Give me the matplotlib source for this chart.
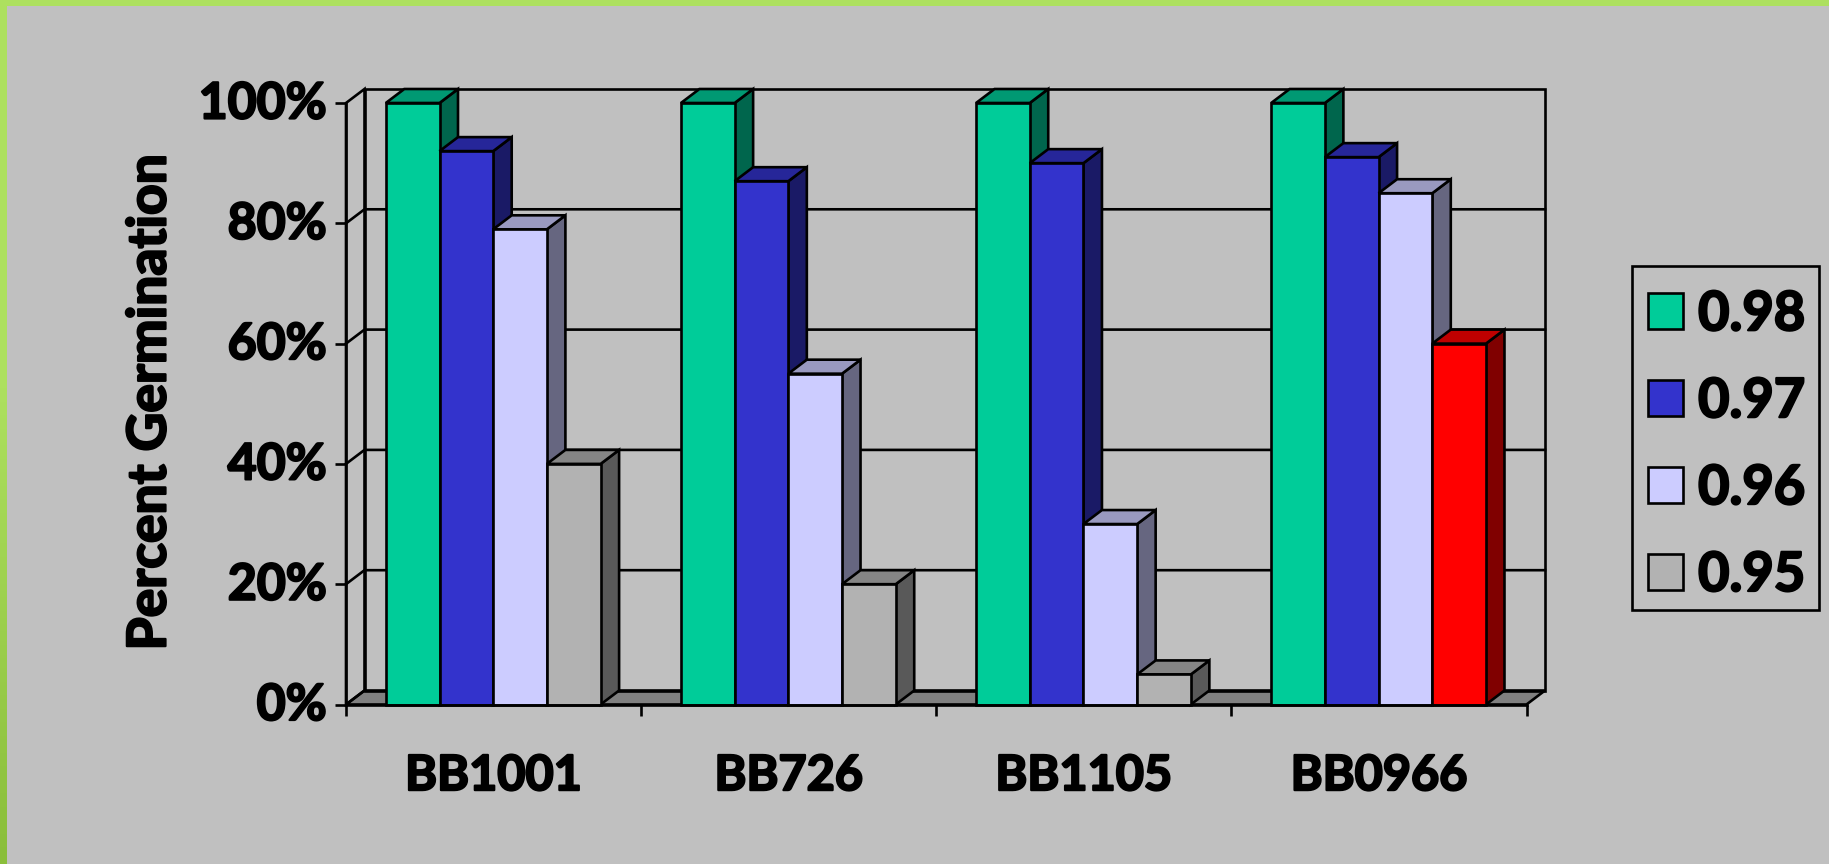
import numpy as np
from matplotlib import pyplot as plt
from matplotlib import patheffects
from matplotlib.colors import LinearSegmentedColormap, to_rgb
from matplotlib.patches import Patch, Polygon, Rectangle
from matplotlib.ticker import PercentFormatter
from matplotlib.transforms import ScaledTranslation

groups = ['BB1001', 'BB726', 'BB1105', 'BB0966']
series_names = ['0.98', '0.97', '0.96', '0.95']
series_values = [
    [100, 100, 100, 100],
    [92, 87, 90, 91],
    [79, 55, 30, 85],
    [40, 20, 5, 60],
]
series_colors = ['#00CC99', '#3333CC', '#CCCCFF', '#B2B2B2']
# last bar of the last series is flagged in red
override_colors = {(3, 3): '#FF0000'}
y_ticks = [0, 20, 40, 60, 80, 100]

W, H = 1829, 864
FONT = 'Lato'
LW = 1.9

# plot box in pixels
LEFT, RIGHT, BOTTOM, TOP = 346, 1526.5, 704.5, 103
DEPTH_X, DEPTH_Y = 18.5, 14
BAR_PX = 53.7
GAP_PX = 39.8

# thickens the letters a little
HEAVY = [patheffects.withStroke(linewidth=1.6, foreground='black')]


def shade(color, factor):
    return tuple(c * factor for c in to_rgb(color))


fig = plt.figure(figsize=(W / 100, H / 100), dpi=100, facecolor='#C0C0C0')
ax = fig.add_axes([LEFT / W, 1 - BOTTOM / H, (RIGHT - LEFT) / W, (BOTTOM - TOP) / H])
ax.set_xlim(0, len(groups))
ax.set_ylim(0, 100)
ax.patch.set_visible(False)

# pixel sizes converted to data units
px_x = len(groups) / (RIGHT - LEFT)
px_y = 100 / (BOTTOM - TOP)
dx = DEPTH_X * px_x
dy = DEPTH_Y * px_y
bar_w = BAR_PX * px_x
gap = GAP_PX * px_x
n_groups = len(groups)


def poly(points, fc='none', z=1):
    ax.add_patch(Polygon(points, closed=True, facecolor=fc, edgecolor='black',
                         linewidth=LW, zorder=z, clip_on=False, joinstyle='miter'))


# floor, walls and gridlines
poly([(0, 0), (n_groups, 0), (n_groups + dx, dy), (dx, dy)], fc='#808080', z=1)
poly([(dx, dy), (n_groups + dx, dy), (n_groups + dx, 100 + dy), (dx, 100 + dy)], z=1.1)
poly([(0, 0), (dx, dy), (dx, 100 + dy), (0, 100)], z=1.1)
for t in y_ticks[1:-1]:
    ax.plot([0, dx, n_groups + dx], [t, t + dy, t + dy], color='black', lw=LW,
            zorder=1.2, clip_on=False)

# bars, left to right so each one covers the side of its neighbour
z = 2
for g in range(n_groups):
    for s, values in enumerate(series_values):
        v = values[g]
        col = override_colors.get((s, g), series_colors[s])
        x0 = g + gap + s * bar_w
        x1 = x0 + bar_w
        poly([(x1, 0), (x1 + dx, dy), (x1 + dx, v + dy), (x1, v)], fc=shade(col, 0.5), z=z)
        poly([(x0, v), (x1, v), (x1 + dx, v + dy), (x0 + dx, v + dy)], fc=shade(col, 0.75), z=z)
        ax.add_patch(Rectangle((x0, 0), bar_w, v, facecolor=col, edgecolor='black',
                               linewidth=LW, zorder=z + 0.1, clip_on=False))
        z += 0.2

for side in ['top', 'right']:
    ax.spines[side].set_visible(False)
for side in ['left', 'bottom']:
    ax.spines[side].set_linewidth(LW)
    ax.spines[side].set_zorder(20)

ax.set_yticks(y_ticks)
ax.yaxis.set_major_formatter(PercentFormatter(100, decimals=0))
ax.tick_params(axis='y', length=8, width=LW, pad=6, labelsize=36)

ax.set_xticks(range(n_groups + 1))
ax.set_xticks([i + 0.5 for i in range(n_groups)], labels=groups, minor=True)
ax.tick_params(axis='x', which='major', length=8, width=LW, labelbottom=False)
ax.tick_params(axis='x', which='minor', length=0, pad=35, labelsize=35)

# percent labels sit slightly above their ticks
y_shift = ScaledTranslation(0, 3 / 100, fig.dpi_scale_trans)
for label in ax.get_yticklabels():
    label.set_transform(label.get_transform() + y_shift)
for label in ax.get_xticklabels(minor=True) + ax.get_yticklabels():
    label.set_fontfamily(FONT)
    label.set_fontweight('bold')
    label.set_path_effects(HEAVY)

fig.text(150 / W, 1 - 402 / H, 'Percent Germination', rotation=90, ha='center', va='center',
         fontsize=38.5, fontweight='bold', fontfamily=FONT, path_effects=HEAVY)

# legend box is drawn on its own so the rows can sit lower inside it
fig.add_artist(Rectangle((1632 / W, 1 - 610 / H), 187 / W, 344 / H, transform=fig.transFigure,
                         facecolor='none', edgecolor='black', linewidth=LW))
handles = [Patch(facecolor=c, edgecolor='black', linewidth=LW) for c in series_colors]
leg = fig.legend(handles, series_names, loc='upper left',
                 bbox_to_anchor=(1632 / W, 1 - 274 / H), bbox_transform=fig.transFigure,
                 frameon=False, borderaxespad=0,
                 prop={'family': FONT, 'weight': 'bold', 'size': 39},
                 handlelength=0.64, handleheight=0.64, handletextpad=0.28,
                 labelspacing=0.7, borderpad=0.3)
for text in leg.get_texts():
    text.set_path_effects(HEAVY)

# page border, the left edge darkens toward the bottom
fig.add_artist(Rectangle((0, 1 - 6 / H), 1, 6 / H, transform=fig.transFigure,
                         facecolor='#ADE05F', edgecolor='none'))
border = fig.add_axes([0, 0, 7 / W, 1])
border.axis('off')
border_cmap = LinearSegmentedColormap.from_list(
    'edge', [(0, '#ADE05F'), (0.45, '#ADE05F'), (1, '#8ABE3A')])
border.imshow(np.linspace(0, 1, 256).reshape(-1, 1), cmap=border_cmap, aspect='auto')

fig.savefig('out.png', dpi=100, facecolor=fig.get_facecolor())
plt.close(fig)
